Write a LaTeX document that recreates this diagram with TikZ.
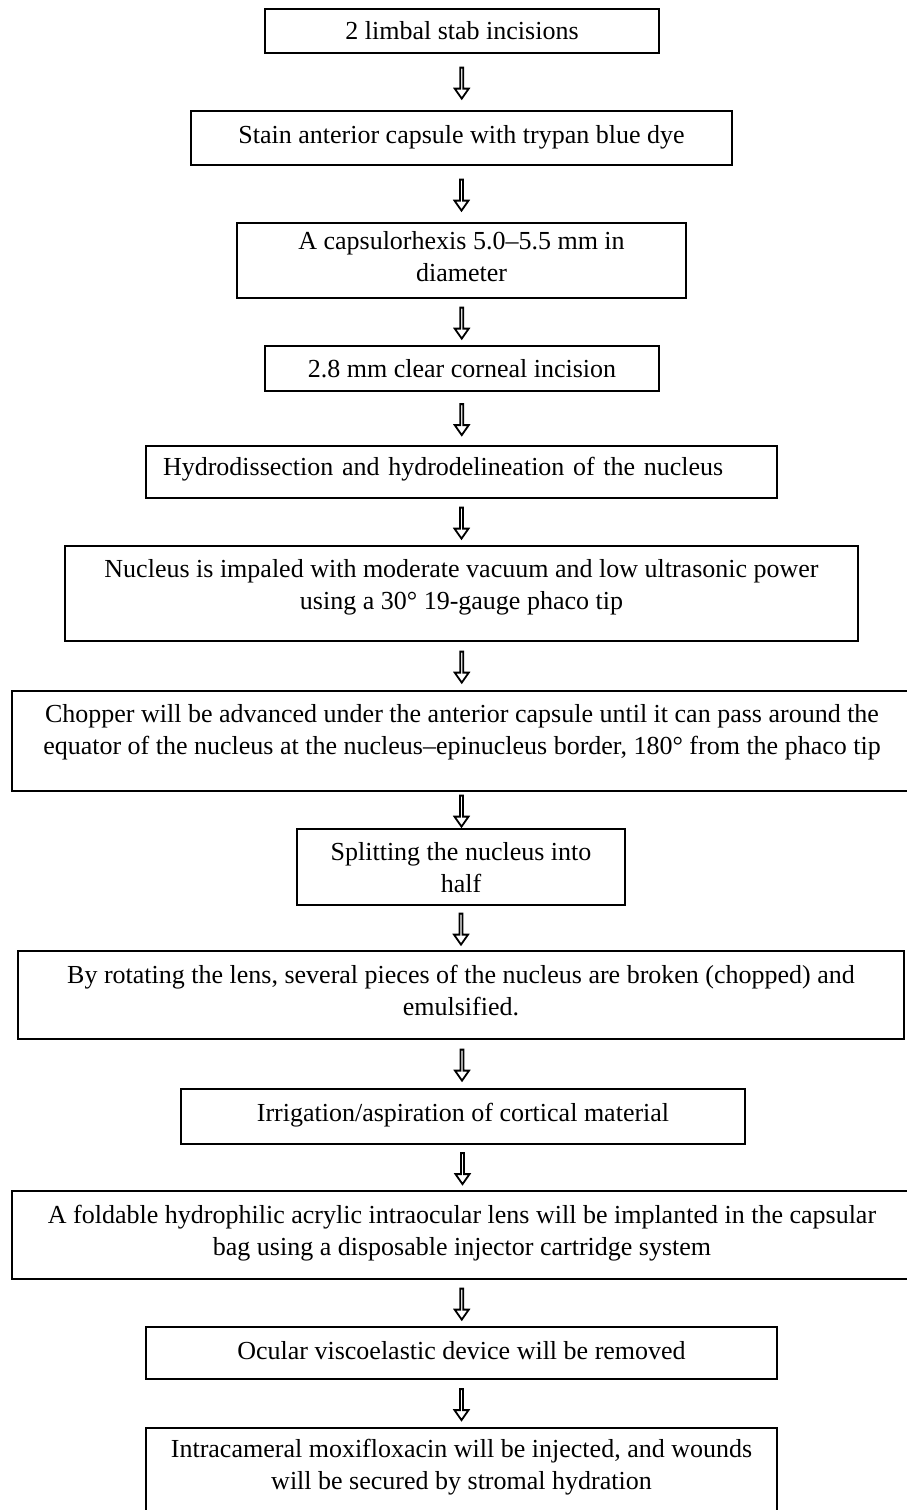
\documentclass[tikz,border=0pt]{standalone}
\usepackage{fontspec}
\setmainfont{Liberation Serif}
\usetikzlibrary{shapes.arrows, positioning, calc}

\begin{document}
\begin{tikzpicture}[x=0.5pt, y=-0.5pt,
  stepbox/.style={draw, line width=1.1pt, inner xsep=0pt, inner ysep=0pt, align=center, anchor=north, font=\fontsize{13}{15.8}\selectfont},
  downarr/.style={draw, line width=0.9pt, single arrow, shape border rotate=270, minimum height=15.5pt, minimum width=7pt, single arrow head extend=1.75pt, single arrow tip angle=70, inner sep=0pt}]
\useasboundingbox (0,0) rectangle (906,1510);
\node[stepbox, minimum width=197pt, text height=15pt, text depth=7pt] (s1) at (462,8) {2 limbal stab incisions};
\node[stepbox, minimum width=270.5pt, text height=16pt, text depth=11pt] (s2) at (461.5,110) {Stain anterior capsule with trypan blue dye};
\node[stepbox, minimum width=224.5pt, text height=29pt, text depth=8.5pt] (s3) at (461.5,222) {A capsulorhexis 5.0–5.5 mm in\\diameter};
\node[stepbox, minimum width=197pt, text height=15.5pt, text depth=7pt] (s4) at (462,345) {2.8 mm clear corneal incision};
\node[stepbox, align=left, text width=298.5pt, inner xsep=8.5pt, text height=14.5pt, text depth=11.5pt] (s5) at (461.5,445) {Hydrodissection and hydrodelineation of the nucleus};
\node[stepbox, minimum width=396.5pt, text height=31.5pt, text depth=16pt] (s6) at (461.5,545) {Nucleus is impaled with moderate vacuum and low ultrasonic power\\using a 30° 19-gauge phaco tip};
\node[stepbox, minimum width=450pt, text height=31.5pt, text depth=18.5pt] (s7) at (462,690) {Chopper will be advanced under the anterior capsule until it can pass around the\\equator of the nucleus at the nucleus–epinucleus border, 180° from the phaco tip};
\node[stepbox, minimum width=164pt, text height=31.5pt, text depth=6.5pt] (s8) at (461,828) {Splitting the nucleus into\\half};
\node[stepbox, minimum width=443pt, text height=32pt, text depth=12pt] (s9) at (461,950) {By rotating the lens, several pieces of the nucleus are broken (chopped) and\\emulsified.};
\node[stepbox, minimum width=282pt, text height=16pt, text depth=11.5pt] (s10) at (463,1088) {Irrigation/aspiration of cortical material};
\node[stepbox, minimum width=450pt, text height=32pt, text depth=12pt] (s11) at (462,1190) {A foldable hydrophilic acrylic intraocular lens will be implanted in the capsular\\bag using a disposable injector cartridge system};
\node[stepbox, minimum width=315.5pt, text height=16pt, text depth=10pt] (s12) at (461.5,1326) {Ocular viscoelastic device will be removed};
\node[stepbox, minimum width=315.5pt, text height=30.5pt, text depth=13pt] (s13) at (461.5,1427) {Intracameral moxifloxacin will be injected, and wounds\\will be secured by stromal hydration};
\foreach \i [evaluate=\i as \j using {int(\i+1)}] in {1,...,12} {
    \node[downarr] (ar\i) at ($(s\i.south)!0.5!(s\j.north)$) {};
}
\end{tikzpicture}
\end{document}
